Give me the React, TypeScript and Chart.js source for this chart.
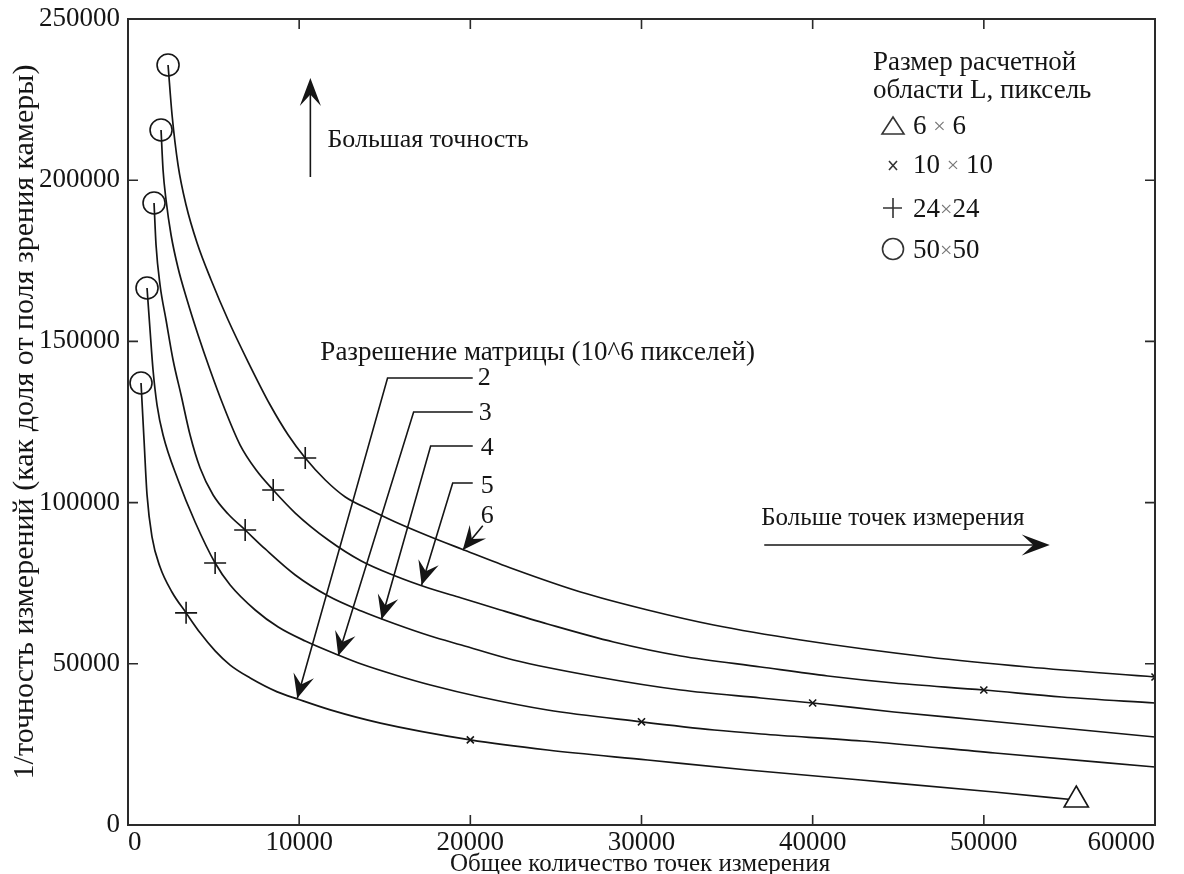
import React, { useEffect, useRef } from "react";
import { Chart, registerables } from "chart.js";

Chart.register(...registerables);

const FONT_FAMILY = '"Liberation Serif", "Times New Roman", Times, serif';
const INK = "#151515";

// ---- axes ----
const xTicks = [0, 10000, 20000, 30000, 40000, 50000, 60000];
const yTicks = [0, 50000, 100000, 150000, 200000, 250000];

// ---- curves: sensor resolution (10^6 px) ----
const resolutionLabels = ["2", "3", "4", "5", "6"];

const curve2 = [
  [761, 137100], [937, 119400], [1112, 102400], [1405, 89300], [1873, 80000],
  [2575, 72200], [3394, 65800], [4213, 59600], [5090, 54000], [5968, 49600],
  [7139, 45600], [8719, 41300], [9890, 39100], [11820, 35700], [14750, 31600],
  [20000, 26400], [24510, 23260], [30360, 20160], [36210, 17060], [42820, 13960],
  [50600, 10240], [55400, 7750],
];
const curve3 = [
  [1112, 166560], [1288, 153530], [1463, 141130], [1697, 130270], [2048, 120970],
  [2925, 107010], [3920, 93980], [5090, 81260], [5968, 74440], [7430, 66690],
  [8775, 61410], [10355, 57070], [12285, 52730], [13630, 49940], [15620, 46530],
  [17670, 43420], [20590, 39700], [24510, 35670], [30000, 32000], [34250, 29470],
  [37000, 28230], [42860, 26050], [50650, 22330], [60000, 17990],
];
const curve4 = [
  [1521, 192930], [1638, 179900], [1872, 167490], [2223, 156640], [2633, 144230],
  [3101, 133370], [3627, 120970], [4212, 110730], [4973, 102360], [5850, 96460],
  [6845, 91500], [8015, 85610], [9770, 77550], [11700, 71030], [13630, 66380],
  [15620, 62350], [17670, 58620], [19480, 55830], [22520, 51180], [27440, 45910],
  [32290, 41870], [36970, 39390], [40000, 37840], [44750, 35050], [49670, 32570],
  [60000, 27300],
];
const curve5 = [
  [1931, 215570], [2048, 203160], [2223, 193860], [2516, 183000], [2925, 172760],
  [3452, 162840], [4095, 151980], [4797, 141130], [5558, 130270], [6552, 117860],
  [7488, 110100], [8483, 103900], [9770, 96770], [11700, 88400], [13630, 81890],
  [15620, 77230], [17550, 73510], [19480, 70410], [21760, 66690], [24510, 62350],
  [28370, 56760], [32290, 52420], [36970, 49010], [40890, 46220], [44750, 44040],
  [50000, 41870], [54560, 39700], [60000, 37840],
];
const curve6 = [
  [2340, 235730], [2574, 220220], [2925, 204710], [3393, 192310], [4037, 180520],
  [4856, 169040], [5850, 156640], [7020, 143610], [8307, 130270], [9360, 120970],
  [10355, 113830], [11525, 107010], [12695, 101740], [14160, 97700], [15620, 93980],
  [17550, 89640], [19480, 85610], [22520, 79400], [26440, 72270], [30360, 66690],
  [34220, 62030], [39310, 57380], [46740, 52110], [52590, 49010], [60000, 45900],
];

// ---- markers: computation window size L (px) ----
const sizeLabels = ["6 × 6", "10 × 10", "24×24", "50×50"];
const triangleMarkers = [[55400, 7750]];
const crossMarkers = [[20000, 26400], [30000, 32000], [40000, 37840], [50000, 41870], [60000, 45900]];
const plusMarkers = [[3394, 65800], [5090, 81260], [6845, 91500], [8483, 103900], [10355, 113830]];
const circleMarkers = [[761, 137100], [1112, 166560], [1521, 192930], [1931, 215570], [2340, 235730]];

// ---- annotation geometry (data coordinates) ----
const leaderArrows = [
  { label: "2", labelAt: [20429, 136475], path: [[20141, 138660], [15164, 138660], [9890, 39300]] },
  { label: "3", labelAt: [20488, 125620], path: [[20141, 128113], [16687, 128113], [12285, 52500]] },
  { label: "4", labelAt: [20605, 114763], path: [[20141, 117566], [17682, 117566], [14813, 63800]] },
  { label: "5", labelAt: [20605, 102976], path: [[20141, 106088], [18970, 106088], [17155, 74448]] },
  { label: "6", labelAt: [20605, 93671], path: [[20727, 92800], [19556, 85300]] },
];

const TEXTS = {
  xTitle: "Общее количество точек измерения",
  yTitle: "1/точность измерений (как доля от поля зрения камеры)",
  up: "Большая точность",
  right: "Больше точек измерения",
  resolution: "Разрешение матрицы (10^6 пикселей)",
  legend1: "Размер расчетной",
  legend2: "области L, пиксель",
};

const toXY = (arr: number[][]) => arr.map(([x, y]) => ({ x, y }));

function arrowHead(ctx: CanvasRenderingContext2D, tx: number, ty: number, fx: number, fy: number, len = 24, half = 0.42) {
  const ang = Math.atan2(ty - fy, tx - fx);
  const lx = tx - len * Math.cos(ang - half);
  const ly = ty - len * Math.sin(ang - half);
  const rx = tx - len * Math.cos(ang + half);
  const ry = ty - len * Math.sin(ang + half);
  const nx = tx - len * 0.55 * Math.cos(ang);
  const ny = ty - len * 0.55 * Math.sin(ang);
  ctx.beginPath();
  ctx.moveTo(tx, ty);
  ctx.lineTo(lx, ly);
  ctx.lineTo(nx, ny);
  ctx.lineTo(rx, ry);
  ctx.closePath();
  ctx.fill();
}

const f = (size: number) => `${size}px ${FONT_FAMILY}`;

const decorPlugin = {
  id: "decor",
  afterDraw(chart: any) {
    const ctx: CanvasRenderingContext2D = chart.ctx;
    const xs = chart.scales.x;
    const ys = chart.scales.y;
    const X = (v: number) => xs.getPixelForValue(v);
    const Y = (v: number) => ys.getPixelForValue(v);
    const { left, right, top, bottom } = chart.chartArea;
    ctx.save();
    // frame
    ctx.strokeStyle = "#2a2a2a";
    ctx.lineWidth = 2;
    ctx.strokeRect(left, top, right - left, bottom - top);
    // inward ticks
    ctx.lineWidth = 1.6;
    ctx.beginPath();
    xTicks.slice(1, -1).forEach((v) => {
      const p = X(v);
      ctx.moveTo(p, bottom); ctx.lineTo(p, bottom - 10);
      ctx.moveTo(p, top); ctx.lineTo(p, top + 10);
    });
    yTicks.slice(1, -1).forEach((v) => {
      const p = Y(v);
      ctx.moveTo(left, p); ctx.lineTo(left + 10, p);
      ctx.moveTo(right, p); ctx.lineTo(right - 10, p);
    });
    ctx.stroke();

    ctx.fillStyle = INK;
    ctx.strokeStyle = INK;
    ctx.textBaseline = "alphabetic";

    // axis titles
    ctx.textAlign = "center";
    ctx.font = f(25);
    ctx.fillText(TEXTS.xTitle, 640, 871);
    ctx.save();
    ctx.translate(33, (top + bottom) / 2);
    ctx.rotate(-Math.PI / 2);
    ctx.font = f(30);
    ctx.fillText(TEXTS.yTitle, 0, 0);
    ctx.restore();
    ctx.textAlign = "left";

    // "higher accuracy" arrow
    ctx.lineWidth = 1.6;
    ctx.beginPath();
    ctx.moveTo(X(10654), Y(200990));
    ctx.lineTo(X(10654), Y(231697) + 10);
    ctx.stroke();
    arrowHead(ctx, X(10654), Y(231697), X(10654), Y(200990), 30, 0.36);
    ctx.font = f(26);
    ctx.fillText(TEXTS.up, X(11649), Y(210295));

    // "more measurement points" arrow
    ctx.beginPath();
    ctx.moveTo(X(37171), Y(86848));
    ctx.lineTo(X(53854) - 10, Y(86848));
    ctx.stroke();
    arrowHead(ctx, X(53854), Y(86848), X(37171), Y(86848), 30, 0.36);
    ctx.font = f(25);
    ctx.fillText(TEXTS.right, X(36995), Y(93051));

    // resolution leaders
    ctx.font = f(27);
    ctx.fillText(TEXTS.resolution, X(11239), Y(144229));
    ctx.font = f(26);
    leaderArrows.forEach((a) => {
      const pts = a.path.map(([x, y]) => [X(x), Y(y)]);
      ctx.beginPath();
      ctx.moveTo(pts[0][0], pts[0][1]);
      for (let i = 1; i < pts.length; i++) ctx.lineTo(pts[i][0], pts[i][1]);
      ctx.stroke();
      const n = pts.length;
      arrowHead(ctx, pts[n - 1][0], pts[n - 1][1], pts[n - 2][0], pts[n - 2][1], 26, 0.42);
      ctx.fillText(a.label, X(a.labelAt[0]), Y(a.labelAt[1]));
    });

    // legend
    ctx.font = f(27);
    ctx.fillText(TEXTS.legend1, 873, 70);
    ctx.fillText(TEXTS.legend2, 873, 98);
    const rows = [134, 173, 217, 258];
    const symX = 893;
    ctx.lineWidth = 1.6;
    ctx.strokeStyle = "#333";
    // triangle
    ctx.beginPath();
    ctx.moveTo(symX, rows[0] - 17);
    ctx.lineTo(symX + 11, rows[0]);
    ctx.lineTo(symX - 11, rows[0]);
    ctx.closePath();
    ctx.stroke();
    // cross (x)
    ctx.beginPath();
    ctx.moveTo(symX - 4, rows[1] - 12); ctx.lineTo(symX + 4, rows[1] - 3);
    ctx.moveTo(symX + 4, rows[1] - 12); ctx.lineTo(symX - 4, rows[1] - 3);
    ctx.stroke();
    // plus
    ctx.beginPath();
    ctx.moveTo(symX - 10, rows[2] - 9); ctx.lineTo(symX + 9, rows[2] - 9);
    ctx.moveTo(symX, rows[2] - 19); ctx.lineTo(symX, rows[2] + 1);
    ctx.stroke();
    // circle
    ctx.beginPath();
    ctx.arc(symX, rows[3] - 9, 10.5, 0, Math.PI * 2);
    ctx.stroke();
    // labels with a lighter multiplication sign
    sizeLabels.forEach((lbl, i) => {
      let x = 913;
      const parts = lbl.split("×");
      parts.forEach((part, j) => {
        ctx.fillStyle = INK;
        ctx.font = f(27);
        ctx.fillText(part, x, rows[i]);
        x += ctx.measureText(part).width;
        if (j < parts.length - 1) {
          ctx.fillStyle = "#777";
          ctx.font = f(22);
          ctx.fillText("×", x, rows[i] - 1);
          x += ctx.measureText("×").width;
        }
      });
    });
    ctx.restore();
  },
};

export default function App() {
  const ref = useRef<HTMLCanvasElement>(null);
  useEffect(() => {
    const canvas = ref.current;
    if (!canvas) return;
    const curves = [curve2, curve3, curve4, curve5, curve6];
    const lineSets = curves.map((c, i) => ({
      label: resolutionLabels[i],
      data: toXY(c),
      showLine: true,
      borderColor: INK,
      borderWidth: 1.7,
      pointRadius: 0,
      cubicInterpolationMode: "monotone",
      fill: false,
      order: 2,
    }));
    const marker = (data: number[][], style: string, radius: number, label: string, bg: string) => ({
      label,
      data: toXY(data),
      showLine: false,
      pointStyle: style,
      pointRadius: radius,
      pointBorderColor: INK,
      pointBackgroundColor: bg,
      pointBorderWidth: 1.6,
      order: 1,
    });
    const chart = new Chart(canvas, {
      type: "scatter",
      data: {
        datasets: [
          ...lineSets,
          marker(triangleMarkers, "triangle", 14, sizeLabels[0], "#ffffff"),
          marker(crossMarkers, "crossRot", 5, sizeLabels[1], "rgba(0,0,0,0)"),
          marker(plusMarkers, "cross", 11, sizeLabels[2], "rgba(0,0,0,0)"),
          marker(circleMarkers, "circle", 11, sizeLabels[3], "rgba(0,0,0,0)"),
        ] as any,
      },
      options: {
        responsive: false,
        animation: false,
        devicePixelRatio: 1,
        layout: { padding: { left: 0, top: 19, right: 29, bottom: 0 } },
        plugins: { legend: { display: false }, tooltip: { enabled: false } },
        scales: {
          x: {
            type: "linear",
            min: 0,
            max: 60000,
            afterBuildTicks: (s: any) => { s.ticks = xTicks.map((v) => ({ value: v })); },
            afterFit: (s: any) => { s.height = 49; s.paddingLeft = 0; s.paddingRight = 0; },
            grid: { display: false, drawTicks: false },
            border: { display: false },
            ticks: {
              color: INK,
              padding: 2,
              maxRotation: 0,
              autoSkip: false,
              align: "inner",
              font: { family: FONT_FAMILY, size: 27 },
              callback: (v: any) => String(v),
            },
          },
          y: {
            type: "linear",
            min: 0,
            max: 250000,
            afterBuildTicks: (s: any) => { s.ticks = yTicks.map((v) => ({ value: v })); },
            afterFit: (s: any) => { s.width = 128; s.paddingTop = 0; s.paddingBottom = 0; },
            grid: { display: false, drawTicks: false },
            border: { display: false },
            ticks: {
              color: INK,
              padding: 8,
              autoSkip: false,
              font: { family: FONT_FAMILY, size: 27 },
              callback: (v: any) => String(v),
            },
          },
        },
      } as any,
      plugins: [decorPlugin],
    });
    return () => chart.destroy();
  }, []);
  return (
    <div style={{ position: "absolute", left: 0, top: 0, width: 1184, height: 874, background: "#ffffff" }}>
      <canvas ref={ref} width={1184} height={874} style={{ display: "block" }} />
    </div>
  );
}
